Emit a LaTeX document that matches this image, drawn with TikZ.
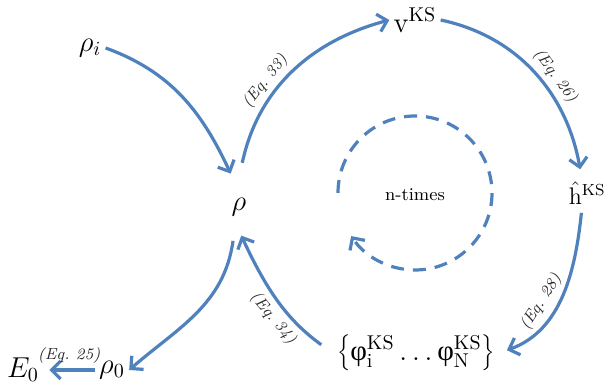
\documentclass[tikz,border=0pt]{standalone}
\usepackage{fontspec}
\newfontfamily\phifont{Liberation Serif}
\usetikzlibrary{arrows.meta}
\definecolor{cycleblue}{RGB}{79,129,189}
\newcommand{\kphi}{\mbox{\phifont φ}}

\begin{document}
\begin{tikzpicture}[
    x=0.5pt, y=0.5pt,
    quantity/.style={font=\Large, inner sep=2pt},
    flow/.style={draw=cycleblue, line width=1.6pt, -{Straight Barb[length=4.5pt,width=9pt]}},
    loopdash/.style={draw=cycleblue, line width=1.6pt, dash pattern=on 6.5pt off 4.5pt, -{Straight Barb[length=4.5pt,width=9pt]}},
    eqlabel/.style={font=\footnotesize\itshape\frenchspacing, text=black!85, sloped, inner sep=2.5pt}
]
\useasboundingbox (0,0) rectangle (607,384);

% Quantities of the self-consistent cycle.
\node[quantity] (rhoi) at (90,336) {$\rho_i$};
\node[quantity, circle, minimum size=34pt, inner sep=0pt] (rho) at (239,177) {$\rho$};
\node[quantity] (vks) at (415,364) {$\mathrm{v}^{\mathrm{KS}}$};
\node[quantity, font=\large, anchor=east, inner sep=0pt] (hks) at (606,191) {$\hat{\mathrm{h}}^{\mathrm{KS}}$};
\node[quantity] (phis) at (416,31) {$\left\{\kphi_{\mathrm{i}}^{\mathrm{KS}} \ldots \kphi_{\mathrm{N}}^{\mathrm{KS}}\right\}$};
\node[quantity] (rho0) at (112,14) {$\rho_0$};
\node[quantity] (E0) at (23,14) {$E_0$};
\node[font=\small] (ntimes) at (415,189) {n-times};

% Cycle arrows.
\draw[flow] (rhoi.east) to[out=-20, in=115] (rho.104);
\draw[flow, shorten <=5pt] (rho.88) to[out=78, in=195]
    node[eqlabel, above, pos=0.4] {(Eq. 33)} (vks.west);
\draw[flow, shorten >=6pt] (vks.east) to[out=-12, in=100]
    node[eqlabel, above, pos=0.55] {(Eq. 26)} ([xshift=-2.5pt]hks.north);
\draw[flow, shorten <=4pt, shorten >=4pt] ([xshift=-2.5pt]hks.south) to[out=-96, in=20]
    node[eqlabel, above, pos=0.6] {(Eq. 28)} (phis.east);
\draw[flow, shorten <=7pt, shorten >=-3pt] (phis.west) to[out=144, in=-65]
    node[eqlabel, below, pos=0.45] {(Eq. 34)} (rho.-82);
\draw[flow] (rho.-100) to[out=-98, in=41] (rho0.east);
\draw[flow, shorten >=3pt] (rho0.west) --
    node[eqlabel, above] {(Eq. 25)} (E0.east);

% Repeat loop.
\draw[loopdash] (338,191) arc[start angle=180, end angle=-146, radius=77];

\end{tikzpicture}
\end{document}
